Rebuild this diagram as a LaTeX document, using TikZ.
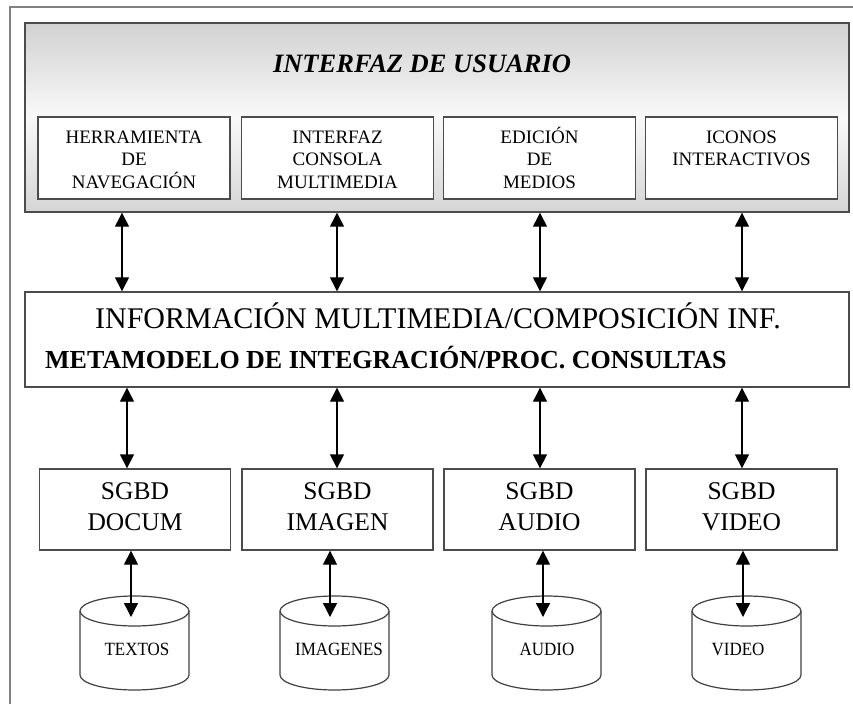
\documentclass[tikz,border=0pt]{standalone}
\usepackage{fontspec}
\setmainfont{Liberation Serif}
\usetikzlibrary{arrows.meta}
\begin{document}
\begin{tikzpicture}[x=1pt,y=-1pt,
  frameline/.style={draw=black!50, line width=1.5pt},
  bigbox/.style={draw=black!70, line width=1.4pt, minimum width=824pt, inner sep=0pt},
  box/.style={draw=black!70, line width=1.3pt, fill=white, minimum width=192pt, minimum height=82pt, inner sep=0pt},
  dbox/.style={draw=black!70, line width=1.3pt, fill=white, minimum width=191pt, minimum height=81pt, inner sep=0pt},
  dbl/.style={{Triangle[width=14pt,length=14pt]}-{Triangle[width=14pt,length=14pt]}, line width=1.3pt, black},
  uitext/.style={anchor=base, inner sep=0pt, font=\fontsize{19}{22.5}\selectfont},
  dbtext/.style={anchor=base, inner sep=0pt, font=\fontsize{25.5}{31}\selectfont},
  cyltext/.style={anchor=base, inner sep=0pt, yscale=1.1, font=\fontsize{17}{20}\selectfont},
  cyl/.style={draw=black!75, line width=1.2pt, fill=white}
]
\useasboundingbox (0,0) rectangle (853,704);
% outer frame
\coordinate (f0) at (10,704);
\coordinate (f1) at (10,7);
\coordinate (f2) at (853,7);
\draw[frameline] (f0) -- (f1) -- (f2);
% user interface panel
\fill[top color=gray!36, bottom color=gray!5] (25,23) rectangle (849,117);
\fill[top color=gray!5, bottom color=gray!33] (25,117) rectangle (849,212);
\node[bigbox, minimum height=189pt] (gui) at (437,117.5) {};
\node[anchor=base, inner sep=0pt, font=\fontsize{26.5}{30}\selectfont\bfseries\itshape] (title) at (422,72) {INTERFAZ DE USUARIO};
\node[box] (ui1) at (134,158) {};
\node[box] (ui2) at (337.5,158) {};
\node[box] (ui3) at (539.5,158) {};
\node[box] (ui4) at (741.5,158) {};
\node[uitext] (t1) at (134,143) {\begin{tabular}[t]{@{}c@{}}HERRAMIENTA\\DE\\NAVEGACIÓN\end{tabular}};
\node[uitext] (t2) at (337.5,143) {\begin{tabular}[t]{@{}c@{}}INTERFAZ\\CONSOLA\\MULTIMEDIA\end{tabular}};
\node[uitext] (t3) at (539.5,143) {\begin{tabular}[t]{@{}c@{}}EDICIÓN\\DE\\MEDIOS\end{tabular}};
\node[uitext] (t4) at (741.5,143) {\begin{tabular}[t]{@{}c@{}}ICONOS\\INTERACTIVOS\end{tabular}};
% middle layer
\node[bigbox, fill=white, minimum height=95pt] (mid) at (437,339.5) {};
\node[anchor=base, inner sep=0pt, font=\fontsize{30}{34}\selectfont] (m1) at (438,328) {INFORMACIÓN MULTIMEDIA/COMPOSICIÓN INF.};
\node[anchor=base west, inner sep=0pt, font=\fontsize{26}{30}\selectfont\bfseries] (m2) at (45,368) {METAMODELO DE INTEGRACIÓN/PROC. CONSULTAS};
% DBMS boxes
\node[dbox] (db1) at (135,509.5) {};
\node[dbox] (db2) at (337.5,509.5) {};
\node[dbox] (db3) at (539.5,509.5) {};
\node[dbox] (db4) at (741.5,509.5) {};
\node[dbtext] (d1) at (135,499) {\begin{tabular}[t]{@{}c@{}}SGBD\\DOCUM\end{tabular}};
\node[dbtext] (d2) at (337.5,499) {\begin{tabular}[t]{@{}c@{}}SGBD\\IMAGEN\end{tabular}};
\node[dbtext] (d3) at (539.5,499) {\begin{tabular}[t]{@{}c@{}}SGBD\\AUDIO\end{tabular}};
\node[dbtext] (d4) at (741.5,499) {\begin{tabular}[t]{@{}c@{}}SGBD\\VIDEO\end{tabular}};
% cylinders
\foreach \cx in {134.5,334.5,546.5,746.5}{
  \filldraw[cyl] (\cx-54.5,611) -- (\cx-54.5,675) arc[start angle=180,end angle=0,x radius=54.5,y radius=15] -- (\cx+54.5,611);
  \draw[cyl] (\cx,611) ellipse[x radius=54.5,y radius=15];
}
\node[cyltext] (c1) at (137,655) {TEXTOS};
\node[cyltext] (c2) at (339,655) {IMAGENES};
\node[cyltext] (c3) at (547,655) {AUDIO};
\node[cyltext] (c4) at (738,655) {VIDEO};
% arrow positions
\coordinate (ua1) at (122,0);
\coordinate (ua2) at (337,0);
\coordinate (ua3) at (540,0);
\coordinate (ua4) at (742,0);
\coordinate (la1) at (127,0);
\coordinate (la2) at (337,0);
\coordinate (la3) at (540,0);
\coordinate (la4) at (742,0);
\coordinate (ct1) at (131,617);
\coordinate (ct2) at (330,617);
\coordinate (ct3) at (543,617);
\coordinate (ct4) at (743,617);
% arrows
\foreach \i in {1,2,3,4}{
  \draw[dbl] (ua\i |- gui.south) -- (ua\i |- mid.north);
  \draw[dbl] (la\i |- mid.south) -- (la\i |- db\i.north);
  \draw[dbl] (ct\i |- db\i.south) -- (ct\i);
}
\end{tikzpicture}
\end{document}
